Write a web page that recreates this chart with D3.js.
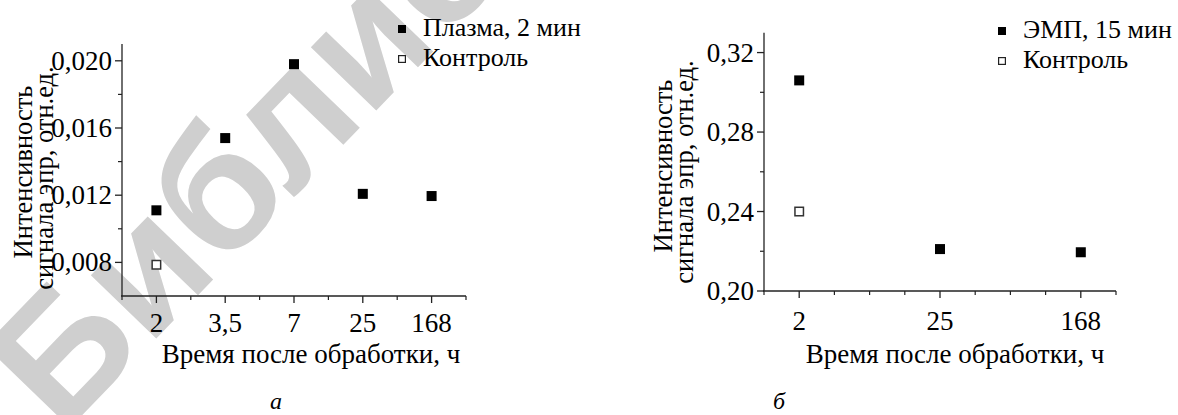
<!DOCTYPE html>
<html><head><meta charset="utf-8">
<script src="https://cdn.jsdelivr.net/npm/d3@7"></script>
<style>body{margin:0;background:#fff}svg{display:block}
svg text{font-family:"Liberation Serif","Times New Roman","DejaVu Serif",serif}
svg text.wm{font-family:"Liberation Sans","DejaVu Sans",sans-serif}</style>
</head><body>
<svg id="c" width="1178" height="415"></svg>
<script>
// ---- data: panel a ----
const catsA = ["2", "3,5", "7", "25", "168"];
const plasmaA = [0.0111, 0.0154, 0.0198, 0.01208, 0.01195];
const controlA = [0.00786];
const yTicksA = [0.008, 0.012, 0.016, 0.020];
const yMinorA = [0.010, 0.014, 0.018];
const legendA = ["Плазма, 2 мин", "Контроль"];
// ---- data: panel b ----
const catsB = ["2", "25", "168"];
const empB = [0.306, 0.2211, 0.2195];
const controlB = [0.240];
const yTicksB = [0.20, 0.24, 0.28, 0.32];
const yMinorB = [0.22, 0.26, 0.30];
const legendB = ["ЭМП, 15 мин", "Контроль"];
const xTitle = "Время после обработки, ч";
const yTitle = ["Интенсивность", "сигнала эпр, отн.ед."];
const watermark = "Библиотека";

const svg = d3.select("#c");
const fmtA = d => d3.format(".3f")(d).replace(".", ",");
const fmtB = d => d3.format(".2f")(d).replace(".", ",");

// watermark behind everything
svg.append("text").attr("class", "wm")
  .attr("transform", "translate(62,436) rotate(-46)")
  .attr("font-size", 172).attr("font-weight", "bold").attr("fill", "#cfcfcf")
  .text(watermark);

function panel(o) {
  const g = svg.append("g");
  const x = d3.scaleLinear().domain(o.xDom).range([o.x0, o.x1]);
  const y = d3.scaleLinear().domain(o.yDom).range([o.y0, o.y1]);
  const idx = o.cats.map((c, i) => i);
  g.append("line").attr("x1", o.x0).attr("x2", o.x0).attr("y1", o.y0).attr("y2", o.y1)
    .attr("stroke", "#222").attr("stroke-width", 1.3);
  g.append("line").attr("x1", o.x0 - 1).attr("x2", o.x1).attr("y1", o.y0).attr("y2", o.y0)
    .attr("stroke", "#222").attr("stroke-width", 1.3);
  g.selectAll(".xt").data(idx).join("line")
    .attr("x1", d => x(d)).attr("x2", d => x(d)).attr("y1", o.y0).attr("y2", o.y0 + 7)
    .attr("stroke", "#222").attr("stroke-width", 1.3);
  g.selectAll(".xm").data(o.xMinor).join("line")
    .attr("x1", d => x(d)).attr("x2", d => x(d)).attr("y1", o.y0).attr("y2", o.y0 + 4)
    .attr("stroke", "#222").attr("stroke-width", 1.2);
  g.selectAll(".xl").data(o.cats).join("text")
    .attr("x", (d, i) => x(i)).attr("y", o.xLabY).attr("text-anchor", "middle")
    .attr("font-size", 27).text(d => d);
  g.selectAll(".yt").data(o.yTicks).join("line")
    .attr("x1", o.x0 - 7).attr("x2", o.x0).attr("y1", d => y(d)).attr("y2", d => y(d))
    .attr("stroke", "#222").attr("stroke-width", 1.3);
  g.selectAll(".ym").data(o.yMinor).join("line")
    .attr("x1", o.x0 - 4).attr("x2", o.x0).attr("y1", d => y(d)).attr("y2", d => y(d))
    .attr("stroke", "#222").attr("stroke-width", 1.2);
  g.selectAll(".yl").data(o.yTicks).join("text")
    .attr("x", o.x0 - 10).attr("y", d => y(d) + 9).attr("text-anchor", "end")
    .attr("font-size", 27).text(o.fmt);
  g.append("text").attr("x", o.xTitleX).attr("y", o.xTitleY).attr("text-anchor", "middle")
    .attr("font-size", 27).text(xTitle);
  yTitle.forEach((t, i) => {
    g.append("text").attr("transform", `translate(${o.yTitleX[i]},${o.yTitleY[i]}) rotate(-90)`)
      .attr("text-anchor", "middle").attr("font-size", 26.5).text(t);
  });
  const s = 10;
  g.selectAll(".pc").data(o.control).join("rect")
    .attr("x", (d, i) => x(i) - s / 2 + 0.75).attr("y", d => y(d) - s / 2 + 0.75)
    .attr("width", s - 1.5).attr("height", s - 1.5)
    .attr("fill", "#fff").attr("stroke", "#333").attr("stroke-width", 1.5);
  g.selectAll(".pm").data(o.main).join("rect")
    .attr("x", (d, i) => x(i) - s / 2).attr("y", d => y(d) - s / 2)
    .attr("width", s).attr("height", s).attr("fill", "#000");
  const ls = 8;
  o.legend.forEach((t, i) => {
    const cy = o.legY + i * 30;
    if (i === 0) {
      g.append("rect").attr("x", o.legX - ls / 2).attr("y", cy - ls / 2).attr("width", ls).attr("height", ls).attr("fill", "#000");
    } else {
      g.append("rect").attr("x", o.legX - ls / 2 + 0.6).attr("y", cy - ls / 2 + 0.6).attr("width", ls - 1.2).attr("height", ls - 1.2)
        .attr("fill", "#fff").attr("stroke", "#222").attr("stroke-width", 1.2);
    }
    g.append("text").attr("x", o.legX + 21).attr("y", cy + 7).attr("font-size", 26).text(t);
  });
  g.append("text").attr("x", o.capX).attr("y", 409).attr("text-anchor", "middle")
    .attr("font-style", "italic").attr("font-size", 24).text(o.cap);
}

panel({
  cats: catsA, main: plasmaA, control: controlA, yTicks: yTicksA, yMinor: yMinorA,
  xDom: [-0.5, 4.5], x0: 122, x1: 466, yDom: [0.006, 0.021], y0: 296, y1: 44,
  xMinor: [-0.5, 0.5, 1.5, 2.5, 3.5, 4.5], xLabY: 332, fmt: fmtA,
  xTitleX: 311, xTitleY: 363, yTitleX: [32, 53], yTitleY: [172, 178],
  legend: legendA, legX: 402, legY: 29, cap: "а", capX: 276
});
panel({
  cats: catsB, main: empB, control: controlB, yTicks: yTicksB, yMinor: yMinorB,
  xDom: [-0.25, 2.25], x0: 764, x1: 1116, yDom: [0.20, 0.33], y0: 291, y1: 32.7,
  xMinor: [-0.25, 0.25, 0.5, 0.75, 1.25, 1.5, 1.75, 2.25], xLabY: 330, fmt: fmtB,
  xTitleX: 955, xTitleY: 363, yTitleX: [672, 693], yTitleY: [166, 172],
  legend: legendB, legX: 1002, legY: 31, cap: "б", capX: 779
});
</script>
</body></html>
